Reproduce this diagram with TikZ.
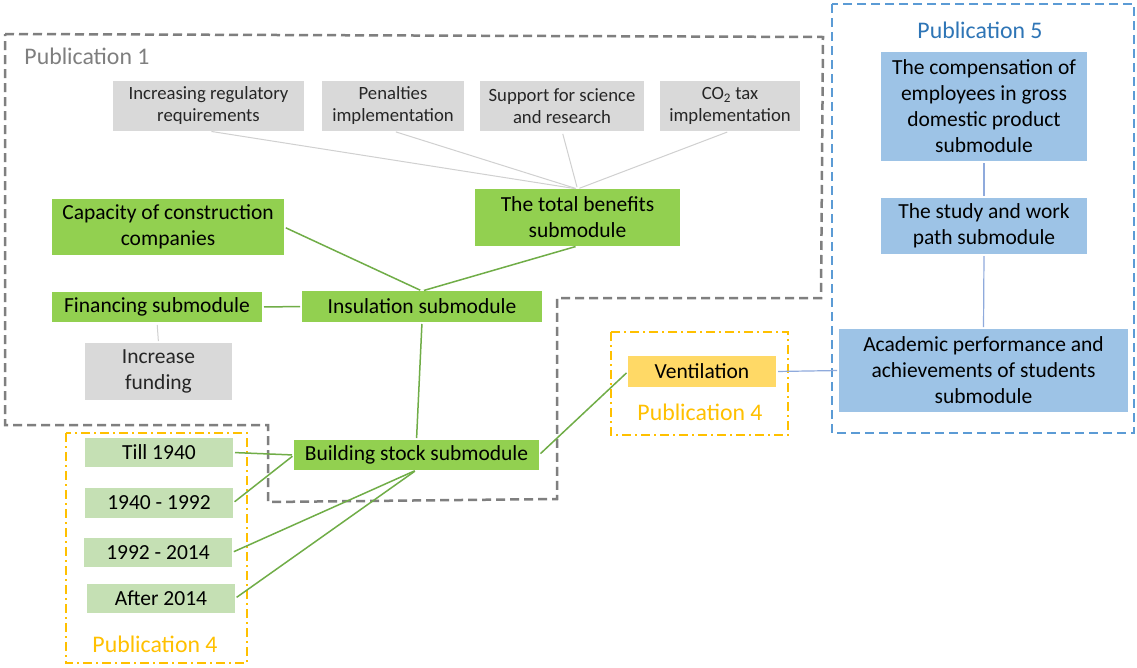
\documentclass[tikz,border=0pt]{standalone}
\usepackage{fontspec}
\setmainfont{Carlito}
\definecolor{cGreen}{HTML}{92D050}
\definecolor{cPale}{HTML}{C5E0B4}
\definecolor{cGrey}{HTML}{D9D9D9}
\definecolor{cBlue}{HTML}{9DC3E6}
\definecolor{cYellow}{HTML}{FFD966}
\definecolor{cOrange}{HTML}{FFC000}
\definecolor{cBlueDash}{HTML}{5B9BD5}
\definecolor{cGreyDash}{HTML}{7F7F7F}
\definecolor{cGLine}{HTML}{70AD47}
\definecolor{cGreyLine}{HTML}{D0D0D0}
\definecolor{cBLine}{HTML}{8FAADC}
\definecolor{cPubBlue}{HTML}{2E75B6}
\definecolor{cDarkText}{HTML}{262626}
\begin{document}
\begin{tikzpicture}[x=1pt,y=-1pt,
  box/.style={inner sep=0pt, outer sep=0pt, align=center, text=black, font=\fontsize{21.5}{26}\selectfont},
  gbox/.style={box, fill=cGreen},
  pbox/.style={box, fill=cPale},
  greybox/.style={box, fill=cGrey, text=cDarkText, font=\fontsize{18.7}{22}\selectfont},
  bbox/.style={box, fill=cBlue},
  ybox/.style={box, fill=cYellow},
  publabel/.style={inner sep=0pt, font=\fontsize{23.8}{28}\selectfont},
  gline/.style={draw=cGLine, line width=1.5pt, shorten <=2pt, shorten >=2pt},
  greyline/.style={draw=cGreyLine, line width=1pt, shorten <=3pt, shorten >=2pt},
  bline/.style={draw=cBLine, line width=1.2pt, shorten <=2pt, shorten >=2pt},
  greyframe/.style={draw=cGreyDash, line width=2.5pt, dash pattern=on 9pt off 5pt},
  blueframe/.style={draw=cBlueDash, line width=2.5pt, dash pattern=on 9pt off 5pt},
  orangeframe/.style={draw=cOrange, line width=2.5pt, dash pattern=on 9pt off 4pt on 2pt off 4pt}
]
\useasboundingbox (0,0) rectangle (1137,667);
\fill[white] (0,0) rectangle (1137,667);

% containers
\draw[greyframe] (5,34) -- (823,37) -- (821,298) -- (557,298) -- (557,499) -- (268,502) -- (268,425) -- (5,425) -- cycle;
\draw[blueframe] (832,4) rectangle (1134,433);
\draw[orangeframe] (66,433) rectangle (247,663);
\draw[orangeframe] (611,332) rectangle (788,435);

\node[publabel, text=cGreyDash] (p1) at (87,56) {Publication 1};
\node[publabel, text=cPubBlue] (p5) at (980,30) {Publication 5};
\node[publabel, text=cOrange] (p4a) at (155,644) {Publication 4};
\node[publabel, text=cOrange] (p4b) at (700,412) {Publication 4};

% grey drivers
\node[greybox, minimum width=191, minimum height=50] (inc) at (208.5,106) {Increasing regulatory\\requirements};
\node[greybox, minimum width=142, minimum height=50] (pen) at (393,106) {Penalties\\implementation};
\node[greybox, minimum width=164, minimum height=50] (sup) at (562,106) {Support for science\\and research};
\node[greybox, minimum width=140, minimum height=50] (co2) at (730,106) {CO\textsubscript{2} tax\\implementation};
\node[greybox, minimum width=147, minimum height=57, font=\fontsize{21.5}{26}\selectfont] (incf) at (158.5,371.5) {Increase\\funding};

% green modules
\node[gbox, minimum width=205, minimum height=57] (tot) at (577.5,217.5) {The total benefits\\submodule};
\node[gbox, minimum width=232, minimum height=56] (cap) at (168,227) {Capacity of construction\\companies};
\node[gbox, minimum width=210, minimum height=30] (fin) at (157,307) {Financing submodule};
\node[gbox, minimum width=240, minimum height=31] (ins) at (422,306.5) {Insulation submodule};
\node[gbox, minimum width=245, minimum height=30] (bld) at (416.5,455) {Building stock submodule};

% periods
\node[pbox, minimum width=148, minimum height=29] (t1) at (159,452.5) {Till 1940};
\node[pbox, minimum width=148, minimum height=30] (t2) at (159,503) {1940 - 1992};
\node[pbox, minimum width=148, minimum height=29] (t3) at (158,552.5) {1992 - 2014};
\node[pbox, minimum width=148, minimum height=29] (t4) at (161,598.5) {After 2014};

% ventilation
\node[ybox, minimum width=148, minimum height=31] (ven) at (702,371.5) {Ventilation};

% blue modules
\node[bbox, minimum width=206, minimum height=109] (comp) at (984,106.5) {The compensation of\\employees in gross\\domestic product\\submodule};
\node[bbox, minimum width=206, minimum height=56] (study) at (984,226) {The study and work\\path submodule};
\node[bbox, minimum width=289, minimum height=83] (acad) at (983.5,370.5) {Academic performance and\\achievements of students\\submodule};

% connectors
\draw[greyline] (inc.south) -- (tot.north);
\draw[greyline] (pen.south) -- (tot.north);
\draw[greyline] (sup.south) -- (tot.north);
\draw[greyline] (co2.south) -- (tot.north);
\draw[greyline] (fin.south) -- (incf.north);

\draw[gline] (tot.south) -- (ins.north);
\draw[gline] (cap.east) -- (ins.north);
\draw[gline] (fin.east) -- (ins.west);
\draw[gline] (ins.south) -- (bld.north);
\draw[gline] (t1.east) -- (bld.west);
\draw[gline] (t2.east) -- (bld.west);
\draw[gline] (t3.east) -- (bld.south);
\draw[gline] (t4.east) -- (bld.south);
\draw[gline] (bld.east) -- (ven.west);

\draw[bline] (ven.east) -- (acad.west);
\draw[bline] (comp.south) -- (study.north);
\draw[bline] (study.south) -- (acad.north);
\end{tikzpicture}
\end{document}
